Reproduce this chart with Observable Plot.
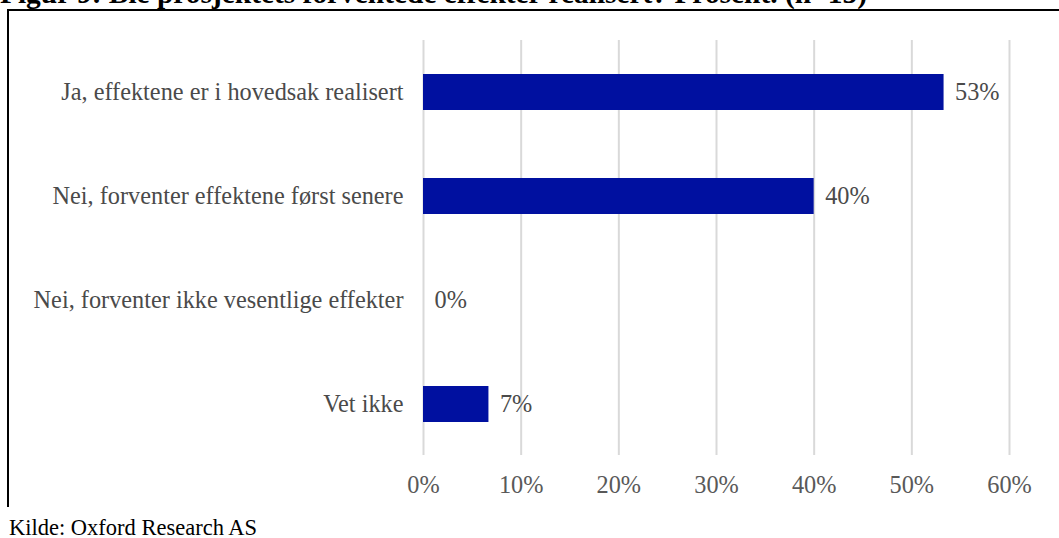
<!DOCTYPE html>
<html><head><meta charset="utf-8">
<script src="https://cdn.jsdelivr.net/npm/d3@7"></script>
<script src="https://cdn.jsdelivr.net/npm/@observablehq/plot@0.6"></script>
<style>
html,body{margin:0;padding:0;background:#fff;}
#wrap{position:relative;width:1059px;height:538px;overflow:hidden;font-family:"Liberation Serif","Times New Roman",serif;}
#title{position:absolute;left:0;top:-23px;font-size:29.4px;font-weight:bold;color:#000;white-space:nowrap;}
#box{position:absolute;left:7px;top:9px;width:1060px;height:496px;border-left:2px solid #000;border-top:2px solid #000;}
#chart{position:absolute;left:0;top:0;}
#caption{position:absolute;left:9px;top:519px;font-size:22.5px;line-height:18px;color:#000;white-space:nowrap;}
</style></head>
<body><div id="wrap">
<div id="title">Figur 9: Ble prosjektets forventede effekter realisert? Prosent. (n=15)</div>
<div id="box"></div>
<div id="chart"></div>
<div id="caption">Kilde: Oxford Research AS</div>
</div>
<script>
const categories = ["Ja, effektene er i hovedsak realisert","Nei, forventer effektene først senere","Nei, forventer ikke vesentlige effekter","Vet ikke"];
const values = [53.3, 40.0, 0.0, 6.7];
const tickValues = [0, 10, 20, 30, 40, 50, 60];
const data = categories.map((c, i) => ({category: c, value: values[i]}));
const serif = "Liberation Serif";

const chart = Plot.plot({
  width: 1059, height: 500,
  marginLeft: 423, marginRight: 50, marginTop: 40, marginBottom: 45,
  style: {fontFamily: serif, fontSize: "24px", background: "transparent", overflow: "visible"},
  x: {domain: [0, 60], ticks: tickValues, tickFormat: d => d + "%", label: null},
  y: {domain: categories, label: null, paddingInner: 0.654, paddingOuter: 0.32},
  marks: [
    Plot.ruleX(tickValues, {stroke: "#d9d9d9", strokeWidth: 2}),
    Plot.barX(data, {x: "value", y: "category", fill: "#0010A0"}),
    Plot.text(data, {x: "value", y: "category", text: d => Math.round(d.value) + "%", textAnchor: "start", dx: 11, fill: "#4a4a4a", fontSize: 24.3, fontFamily: serif}),
    Plot.axisX({ticks: tickValues, tickFormat: d => d + "%", tickSize: 0, tickPadding: 20, color: "#595959", fontSize: 24.3, fontFamily: serif, label: null}),
    Plot.axisY({tickSize: 0, tickPadding: 20, color: "#4a4a4a", fontSize: 24.3, fontFamily: serif, label: null})
  ]
});
document.getElementById("chart").appendChild(chart);
</script>
</body></html>
